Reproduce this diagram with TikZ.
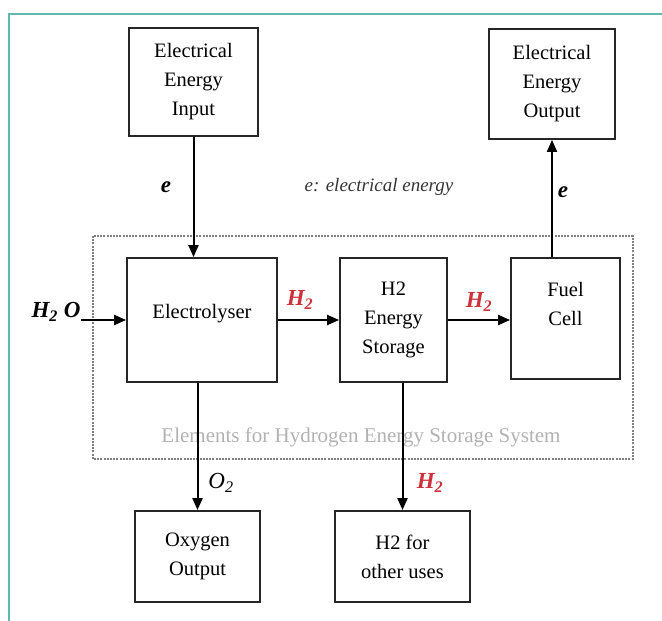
\documentclass[tikz,border=0pt]{standalone}
\usepackage{fontspec}
\setmainfont{Liberation Serif}
\usepackage{tikz}
\usepackage{xcolor}
\usetikzlibrary{arrows.meta}
\definecolor{hred}{RGB}{205,50,60}
\definecolor{frameteal}{RGB}{95,185,175}

\begin{document}
\begin{tikzpicture}[x=1pt,y=-1pt,
  every node/.style={font=\fontsize{20.5}{29}\selectfont},
  blk/.style={draw=black!85,line width=1.8pt,align=center,inner sep=0pt},
  flow/.style={draw=black,line width=2pt,-{Triangle[length=12pt,width=10pt]}},
  lbl/.style={font=\fontsize{23}{26}\selectfont\bfseries\itshape,inner sep=0pt},
  hlbl/.style={lbl,text=hred}]
\useasboundingbox (0,0) rectangle (662,621);
\draw[frameteal,line width=1.2pt] (9,621) -- (9,14) -- (662,14);
% system frame
\draw[black!50,line width=1.3pt,dash pattern=on 2pt off 1.2pt] (93,236) rectangle (633,459);
\node[text=black!30,font=\fontsize{21}{25}\selectfont] (sys) at (361,437) {Elements for Hydrogen Energy Storage System};
% blocks
\node[blk,minimum width=129,minimum height=108] (ein) at (193.5,82) {Electrical\\Energy\\Input};
\node[blk,minimum width=126,minimum height=110] (eout) at (552,84) {Electrical\\Energy\\Output};
\node[blk,minimum width=150,minimum height=124] (elec) at (202,320) {Electrolyser\\[-12pt]\mbox{}};
\node[blk,minimum width=107,minimum height=124] (stor) at (393.5,320) {H2\\Energy\\Storage};
\node[blk,minimum width=109,minimum height=121] (fuel) at (565.5,318.5) {Fuel\\Cell\\\mbox{}};
\node[blk,minimum width=125,minimum height=91] (oxy) at (197.5,556.5) {Oxygen\\Output};
\node[blk,minimum width=135,minimum height=91] (hoth) at (402.5,556.5) {H2 for\\other uses};
% labels
\node[lbl] (water) at (56,312) {H\textsubscript{2} O};
\node[lbl] (ein-e) at (166,187) {e};
\node[lbl] (eout-e) at (563,192) {e};
\node[font=\fontsize{19}{23}\selectfont\itshape,text=black!80] (legend) at (379,187) {e: electrical energy};
\node[hlbl] (h2a) at (300,300) {H\textsubscript{2}};
\node[hlbl] (h2b) at (479,302) {H\textsubscript{2}};
\node[hlbl] (h2c) at (430,483) {H\textsubscript{2}};
\node[lbl,font=\fontsize{23}{26}\selectfont\itshape] (o2) at (221,483) {O\textsubscript{2}};
% flows
\draw[flow] (ein.south) -- (ein.south |- elec.north);
\draw[flow] (eout.south |- fuel.north) -- (eout.south);
\draw[flow] (water.east |- elec.west) -- (elec.west);
\draw[flow] (elec.east) -- (stor.west);
\draw[flow] (stor.east) -- (stor.east -| fuel.west);
\draw[flow] (oxy.north |- elec.south) -- (oxy.north);
\draw[flow] (hoth.north |- stor.south) -- (hoth.north);
\end{tikzpicture}
\end{document}
